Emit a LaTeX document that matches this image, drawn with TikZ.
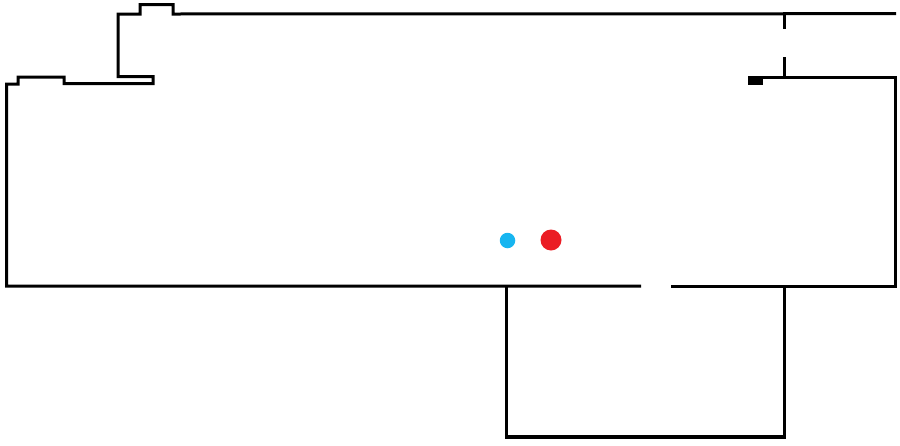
\documentclass[tikz,border=0pt]{standalone}
\tikzset{wall/.style={line width=3pt,black,line cap=butt,line join=miter},
annexwall/.style={line width=3.3pt,black,line cap=butt,line join=miter},
dot/.style={circle,inner sep=0pt,draw=none}}
\definecolor{dotblue}{HTML}{17B5F0}
\definecolor{dotred}{HTML}{EB1C24}
\begin{document}
\begin{tikzpicture}[x=1pt,y=-1pt]
\useasboundingbox (0,0) rectangle (900,445);
\draw[wall] (641,286) -- (6.7,286) -- (6.7,84) -- (18,84) -- (18,77) -- (64,77) -- (64,83.5) -- (153,83.5) -- (153,76.5) -- (118,76.5) -- (118,14) -- (140,14) -- (140,4.5) -- (173,4.5) -- (173,14) -- (896,13.7);
\draw[wall] (750,77) -- (895.7,77) -- (895.7,286) -- (671,286);
\draw[annexwall] (506.5,286) -- (506.5,437) -- (784.5,437) -- (784.5,286);
\draw[wall] (784.3,14) -- (784.3,28.5);
\draw[wall] (784.3,57) -- (784.3,77);
\fill[black] (748,76) rectangle (763,85);
\node[dot,fill=dotblue,minimum size=15.5pt] (blue) at (507.5,240.5) {};
\node[dot,fill=dotred,minimum size=21pt] (red) at (551,240) {};
\end{tikzpicture}
\end{document}
